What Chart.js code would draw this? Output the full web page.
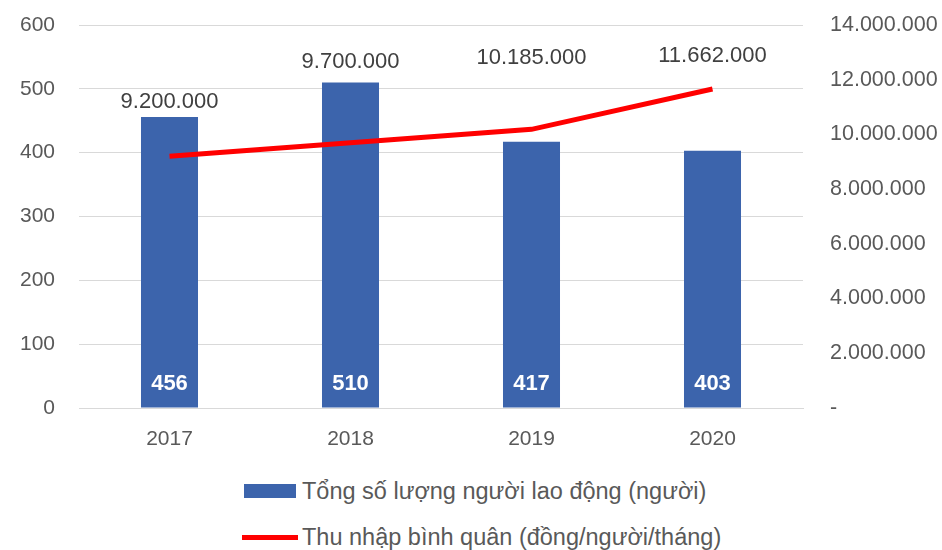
<!DOCTYPE html>
<html lang="vi">
<head>
  <meta charset="UTF-8">
  <title>Lao động và thu nhập bình quân 2017-2020</title>
  <script src="https://cdn.jsdelivr.net/npm/chart.js"></script>
  <style>
    body { margin: 0; background: #fff; font-family: "Liberation Sans", Arial, sans-serif; }
    #wrap { position: relative; width: 942px; height: 550px; }
    #box { position: absolute; left: 0; top: 0; width: 942px; height: 465px; }
    .legend { position: absolute; color: #595959; font-size: 23.5px; line-height: 26px; display: flex; align-items: center; }
    .legend .swatch { display: inline-block; }
  </style>
</head>
<body>
<div id="wrap">
  <div id="box"><canvas id="chart"></canvas></div>
  <div class="legend" style="left:244px;top:478px"><span class="swatch" style="width:52px;height:14px;background:#3C64AC;margin-right:6px"></span>Tổng số lượng người lao động (người)</div>
  <div class="legend" style="left:242px;top:524px"><span class="swatch" style="width:56px;height:5px;background:#FF0000;margin-right:4px"></span>Thu nhập bình quân (đồng/người/tháng)</div>
</div>

<script>
  const years = ['2017', '2018', '2019', '2020'];
  const workers = [456, 510, 417, 403];
  const income = [9200000, 9700000, 10185000, 11662000];

  const grey = '#595959';
  const family = '"Liberation Sans", Arial, sans-serif';

  // 9200000 -> "9.200.000", 0 -> "-"
  function vnd(v) {
    if (v === 0) return '-';
    return String(Math.round(v)).replace(/\B(?=(\d{3})+(?!\d))/g, '.');
  }

  // lift of each income label above its point (keeps clear of the bars)
  const lineLabelLift = [54, 81, 71, 33];

  const valueLabels = {
    id: 'valueLabels',
    afterDatasetsDraw(chart) {
      const ctx = chart.ctx;
      const base = chart.scales.y.getPixelForValue(0);
      ctx.save();
      ctx.textAlign = 'center';
      ctx.textBaseline = 'middle';

      ctx.font = 'bold 22px ' + family;
      ctx.fillStyle = '#ffffff';
      chart.getDatasetMeta(1).data.forEach((bar, i) => {
        ctx.fillText(workers[i], bar.x, base - 24);
      });

      ctx.font = '22px ' + family;
      ctx.fillStyle = '#404040';
      chart.getDatasetMeta(0).data.forEach((pt, i) => {
        ctx.fillText(vnd(income[i]), pt.x, pt.y - lineLabelLift[i]);
      });
      ctx.restore();
    }
  };

  // fixed axis sizes, no extra room for overflowing tick labels
  function fixSize(w, h) {
    return s => {
      if (w) s.width = w;
      if (h) s.height = h;
      s.paddingTop = 0; s.paddingBottom = 0; s.paddingLeft = 0; s.paddingRight = 0;
    };
  }

  new Chart(document.getElementById('chart'), {
    data: {
      labels: years,
      datasets: [
        {
          type: 'line',
          label: 'Thu nhập bình quân (đồng/người/tháng)',
          data: income,
          yAxisID: 'y2',
          borderColor: '#FF0000',
          borderWidth: 5,
          pointRadius: 0,
          tension: 0,
          order: 0
        },
        {
          type: 'bar',
          label: 'Tổng số lượng người lao động (người)',
          data: workers,
          yAxisID: 'y',
          backgroundColor: '#3C64AC',
          barPercentage: 0.315,
          categoryPercentage: 1,
          order: 1
        }
      ]
    },
    options: {
      responsive: true,
      maintainAspectRatio: false,
      animation: false,
      layout: { autoPadding: false, padding: { top: 25, left: 0, right: 0, bottom: 0 } },
      plugins: { legend: { display: false }, tooltip: { enabled: false } },
      scales: {
        x: {
          grid: { display: false },
          border: { display: true, color: '#D9D9D9', width: 1 },
          ticks: { color: grey, font: { family, size: 21 }, padding: 11 },
          afterFit: fixSize(0, 57)
        },
        y: {
          position: 'left',
          min: 0, max: 600,
          ticks: { stepSize: 100, color: grey, font: { family, size: 21 }, padding: 24 },
          grid: { color: '#D9D9D9', drawTicks: false },
          border: { display: false },
          afterFit: fixSize(79, 0)
        },
        y2: {
          position: 'right',
          min: 0, max: 14000000,
          ticks: { stepSize: 2000000, color: grey, font: { family, size: 21.5 }, padding: 27, callback: v => vnd(v) },
          grid: { display: false, drawTicks: false },
          border: { display: false },
          afterFit: fixSize(139, 0)
        }
      }
    },
    plugins: [valueLabels]
  });
</script>
</body>
</html>
